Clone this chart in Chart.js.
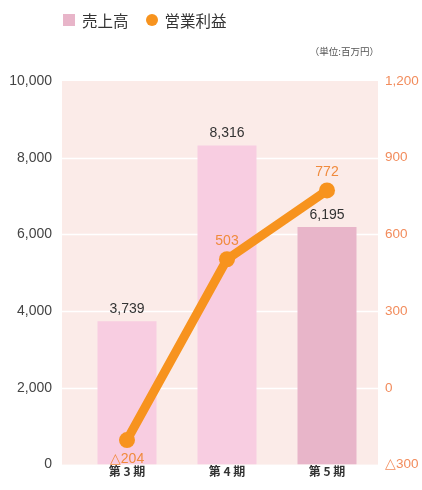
<!DOCTYPE html>
<html>
<head>
<meta charset="utf-8">
<script src="https://cdn.jsdelivr.net/npm/chart.js@4.4.1/dist/chart.umd.min.js"></script>
<style>
  html, body { margin: 0; padding: 0; background: #fff; }
  #wrap { position: relative; width: 422px; height: 490px; overflow: hidden; }
  #legend { position: absolute; left: 63px; top: 9px; font: 15.5px "Noto Sans CJK JP", sans-serif; color: #333; display: flex; align-items: center; }
  #legend .sq { width: 12px; height: 12px; background: #e8b5c9; margin-right: 7px; }
  #legend .ci { width: 12px; height: 12px; border-radius: 50%; background: #f7931e; margin: 0 7px 0 17px; }
  #unit { position: absolute; right: 43px; top: 44px; font: 9.5px "Noto Sans CJK JP", sans-serif; color: #555; }
  canvas { position: absolute; left: 0; top: 0; }
</style>
</head>
<body>
<div id="wrap">
  <canvas id="chart" width="422" height="498"></canvas>
  <div id="legend"><span class="sq"></span>売上高<span class="ci"></span>営業利益</div>
  <div id="unit">（単位:百万円）</div>
</div>
<script>
const periods = ["第 3 期", "第 4 期", "第 5 期"]
const sales = [3739, 8316, 6195]
const operatingProfit = [-204, 503, 772]
const salesTicks = [0, 2000, 4000, 6000, 8000, 10000]
const profitTicks = [-300, 0, 300, 600, 900, 1200]

const numFont = '"Liberation Sans", Arial, sans-serif'
const orange = "#f7931e"

const fmt = (v) => (v < 0 ? "△" + Math.abs(v).toLocaleString("en-US") : v.toLocaleString("en-US"))

const backdrop = {
  id: "backdrop",
  beforeDatasetsDraw(chart) {
    const { ctx, chartArea } = chart
    const y = chart.scales.y
    const left = chartArea.left - 15
    const right = chartArea.right + 1
    ctx.save()
    ctx.fillStyle = "#fbebe8"
    ctx.fillRect(left, chartArea.top, right - left, chartArea.bottom - chartArea.top)
    ctx.strokeStyle = "#ffffff"
    ctx.lineWidth = 1.5
    salesTicks.forEach((t) => {
      if (t === 0 || t === 10000) return
      const py = Math.round(y.getPixelForValue(t)) + 0.5
      ctx.beginPath()
      ctx.moveTo(left, py)
      ctx.lineTo(right, py)
      ctx.stroke()
    })
    ctx.restore()
  },
}

const valueLabels = {
  id: "valueLabels",
  afterDatasetsDraw(chart) {
    const { ctx } = chart
    ctx.save()
    ctx.textAlign = "center"
    ctx.textBaseline = "middle"
    ctx.font = "14px " + numFont
    ctx.fillStyle = "#333"
    chart.getDatasetMeta(0).data.forEach((bar, i) => {
      ctx.fillText(fmt(sales[i]), bar.x, bar.y - 12)
    })
    ctx.fillStyle = "#f08a3c"
    chart.getDatasetMeta(1).data.forEach((pt, i) => {
      const v = operatingProfit[i]
      ctx.fillText(fmt(v), pt.x, v < 0 ? pt.y + 19 : pt.y - 18)
    })
    ctx.restore()
  },
}

new Chart(document.getElementById("chart"), {
  data: {
    labels: periods,
    datasets: [
      {
        type: "bar",
        label: "売上高",
        data: sales,
        yAxisID: "y",
        backgroundColor: ["#f8cde1", "#f8cde1", "#e8b5c9"],
        barPercentage: 0.59,
        categoryPercentage: 1,
        order: 1,
      },
      {
        type: "line",
        label: "営業利益",
        data: operatingProfit,
        yAxisID: "y1",
        borderColor: orange,
        backgroundColor: orange,
        borderWidth: 9,
        pointRadius: 8,
        pointBackgroundColor: orange,
        pointBorderWidth: 0,
        order: 0,
      },
    ],
  },
  options: {
    responsive: false,
    animation: false,
    layout: { padding: { top: 81 } },
    plugins: { legend: { display: false }, tooltip: { enabled: false } },
    scales: {
      x: {
        grid: { display: false, drawTicks: false },
        border: { display: false },
        ticks: { color: "#333", padding: 0, font: { family: '"Noto Sans CJK JP", sans-serif', size: 12, weight: "bold" } },
        afterFit: (s) => { s.height = 18 },
      },
      y: {
        position: "left",
        min: 0,
        max: 10000,
        afterBuildTicks: (s) => { s.ticks = salesTicks.map((v) => ({ value: v })) },
        grid: { display: false, drawTicks: false },
        border: { display: false },
        ticks: { color: "#444", padding: 25, font: { family: numFont, size: 14 }, callback: (v) => fmt(v) },
        afterFit: (s) => { s.width = 77 },
      },
      y1: {
        position: "right",
        min: -300,
        max: 1200,
        afterBuildTicks: (s) => { s.ticks = profitTicks.map((v) => ({ value: v })) },
        grid: { display: false, drawTicks: false },
        border: { display: false },
        ticks: { color: "#f28c5c", padding: 8, font: { family: numFont, size: 13.5 }, callback: (v) => fmt(v) },
        afterFit: (s) => { s.width = 45 },
      },
    },
  },
  plugins: [backdrop, valueLabels],
})
</script>
</body>
</html>
